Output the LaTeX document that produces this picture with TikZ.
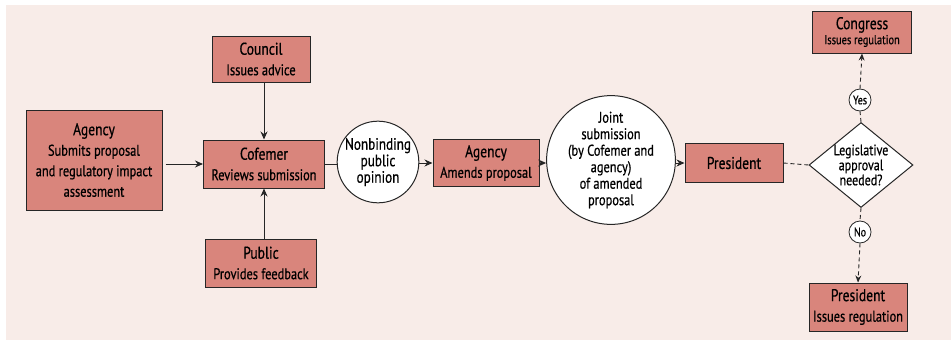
\documentclass[tikz,border=0pt]{standalone}
\usepackage{fontspec}
\setmainfont{PT Sans}[FakeStretch=0.8,FakeBold=0.6]
\usetikzlibrary{arrows.meta,shapes.geometric}

\definecolor{boxred}{RGB}{217,133,124}
\definecolor{paper}{RGB}{248,236,232}
\newcommand{\hd}[1]{{\fontsize{17}{19}\selectfont #1}}

\tikzset{
  box/.style={draw=black!85,line width=1pt,fill=boxred,align=center,inner sep=1pt,
    font=\fontsize{15.5}{20.5}\selectfont},
  bubble/.style={draw=black!85,circle,fill=white,line width=1pt,align=center,inner sep=0pt,
    font=\fontsize{15.5}{16.5}\selectfont},
  decision/.style={draw=black!85,diamond,fill=white,line width=1pt,align=center,inner sep=-12pt,
    minimum width=104pt,minimum height=85pt,font=\fontsize{15}{15}\selectfont},
  tag/.style={draw=black!85,circle,fill=white,line width=0.8pt,inner sep=0pt,
    minimum size=22pt,font=\fontsize{12.5}{13}\selectfont},
  flow/.style={-{Stealth[length=8pt,width=7pt]},line width=1pt,black!85},
  link/.style={dashed,line width=0.9pt,black!85,dash pattern=on 4pt off 3pt}
}

\begin{document}
\begin{tikzpicture}[x=1pt,y=-1pt]
  \useasboundingbox (0,0) rectangle (952,340);
  \fill[paper] (6,5) rectangle (951,340);

  % left part
  \node[box,minimum width=136pt,minimum height=100pt] (agency) at (94,160)
    {\hd{Agency}\\Submits proposal\\and regulatory impact\\assessment};
  \node[box,minimum width=98pt,minimum height=46pt] (council) at (261,59)
    {\hd{Council}\\Issues advice};
  \node[box,minimum width=121pt,minimum height=48pt] (cofemer) at (264,164)
    {\hd{Cofemer}\\Reviews submission};
  \node[box,minimum width=111pt,minimum height=48pt] (public) at (261,263)
    {\hd{Public}\\Provides feedback};

  % middle part
  \node[bubble,minimum size=73pt,font=\fontsize{16.5}{16.5}\selectfont] (opinion) at (378,162)
    {Nonbinding\\public\\opinion};
  \node[box,minimum width=106pt,minimum height=47pt] (amend) at (486,163)
    {\hd{Agency}\\Amends proposal};
  \node[bubble,minimum size=117pt] (joint) at (611,160)
    {Joint\\submission\\(by Cofemer and\\agency)\\of amended\\proposal};
  \node[box,minimum width=98pt,minimum height=39pt,font=\fontsize{17}{19}\selectfont] (president) at (734,163)
    {President};

  % right part
  \node[decision] (legis) at (861,165) {Legislative\\approval\\needed?};
  \node[tag] (yes) at (860,100) {Yes};
  \node[tag] (no) at (860,232) {No};
  \node[box,minimum width=99pt,minimum height=42pt,font=\fontsize{13}{15}\selectfont] (congress) at (862,32)
    {\hd{Congress}\\Issues regulation};
  \node[box,minimum width=98pt,minimum height=48pt] (decree) at (858,307)
    {\hd{President}\\Issues regulation};

  \draw[flow] (agency.east |- cofemer.west) ++(3,0) -- (cofemer.west);
  \draw[flow] (council.south -| cofemer.north) -- (cofemer.north);
  \draw[flow] (public.north -| cofemer.south) -- (cofemer.south);
  \draw[line width=1pt,black!85] (cofemer.east) -- (opinion.west |- cofemer.east);
  \draw[flow] (opinion.east |- amend.west) -- (amend.west);
  \draw[flow] (amend.east) -- (joint.west |- amend.east);
  \draw[flow] (joint.east |- president.west) -- (president.west);
  \draw[link] (president.east) -- (legis.west);
  \draw[link] (legis.north) -- (yes.south);
  \draw[link,-{Stealth[length=7pt,width=6pt]}] (yes.north) -- (congress.south);
  \draw[link] (legis.south) -- (no.north);
  \draw[link,-{Stealth[length=7pt,width=6pt]}] (no.south) -- (decree.north);
\end{tikzpicture}
\end{document}
